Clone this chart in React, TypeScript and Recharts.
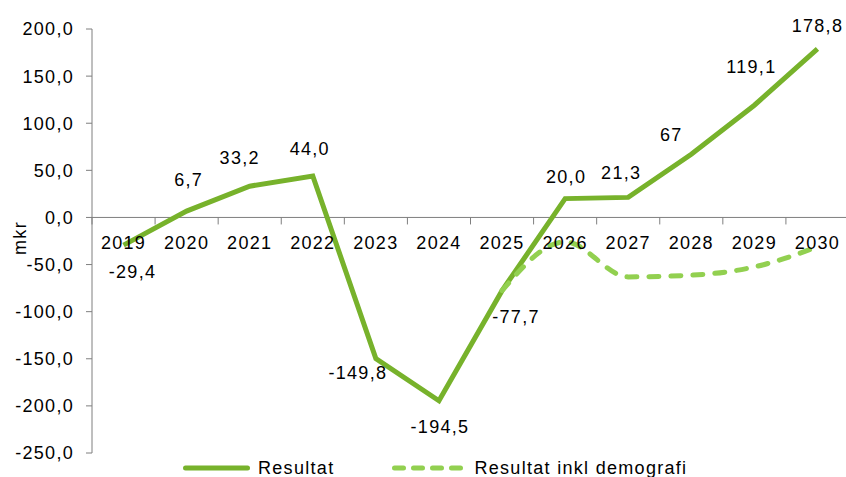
import React from 'react';
import { LineChart, Line, XAxis, YAxis, ReferenceLine, LabelList, Legend, Label } from 'recharts';

const years = ['2019', '2020', '2021', '2022', '2023', '2024', '2025', '2026', '2027', '2028', '2029', '2030'];
const resultat = [-29.4, 6.7, 33.2, 44.0, -149.8, -194.5, -77.7, 20.0, 21.3, 67, 119.1, 178.8];
const resultatDecimals = [1, 1, 1, 1, 1, 1, 1, 1, 1, 0, 1, 1];
const demografi: (number | null)[] = [null, null, null, null, null, null, -77.7, -25.9, -63.1, -61.3, -52.5, -31.2];
const yTicks = [-250, -200, -150, -100, -50, 0, 50, 100, 150, 200];
const labelOffsets: [number, number][] = [
  [9, 27], [2, -31], [-10, -28], [-3, -27], [-18, 14], [1, 26],
  [14, 26], [1, -22], [-7, -24], [-20, -19], [-3, -38], [0, -23],
];

const data = years.map((y, i) => ({ year: y, resultat: resultat[i], demografi: demografi[i] }));

const CHART_W = 850;
const CHART_H = 477;
const X_AXIS_H = 1;
const MARGIN = { top: 29, right: 1, bottom: 23, left: 0 };
const Y_AXIS_W = 92;
const Y_MIN = -250;
const Y_MAX = 200;
const PLOT_H = CHART_H - MARGIN.top - MARGIN.bottom - X_AXIS_H;
const PLOT_W = CHART_W - MARGIN.left - MARGIN.right - Y_AXIS_W;
const BAND = PLOT_W / years.length;
const ZERO_Y = MARGIN.top + (PLOT_H * Y_MAX) / (Y_MAX - Y_MIN);

const SOLID = '#77B22B';
const DASHED = '#92D050';
const AXIS = '#7F7F7F';
const FONT = "'Liberation Sans', Arial, sans-serif";
const FS = 18;
const LS = 1.3;

const fmt = (v: number, d = 1) => v.toFixed(d).replace('.', ',');

const XTick = (props: any) => {
  const { x, payload, index } = props;
  const half = BAND / 2;
  const last = index === years.length - 1;
  return (
    <g>
      <line x1={x - half} x2={x - half} y1={ZERO_Y} y2={ZERO_Y + 7} stroke={AXIS} strokeWidth={1} />
      {last && <line x1={x + half} x2={x + half} y1={ZERO_Y} y2={ZERO_Y + 7} stroke={AXIS} strokeWidth={1} />}
      <text x={x} y={ZERO_Y + 32} textAnchor="middle" fontSize={FS} letterSpacing={LS} fill="#000" fontFamily={FONT}>
        {payload.value}
      </text>
    </g>
  );
};

const DataLabel = (props: any) => {
  const { index, value } = props;
  const x = props.x ?? props.viewBox?.x;
  const y = props.y ?? props.viewBox?.y;
  if (x == null || y == null || value == null) return null;
  const [dx, dy] = labelOffsets[index] || [0, -20];
  return (
    <text x={x + dx} y={y + dy} textAnchor="middle" dominantBaseline="central" fontSize={FS} letterSpacing={LS} fill="#000" fontFamily={FONT}>
      {fmt(Number(value), resultatDecimals[index])}
    </text>
  );
};

const LegendContent = () => (
  <div style={{ display: 'flex', alignItems: 'center', fontFamily: FONT, fontSize: FS, letterSpacing: LS, color: '#000', height: 20, whiteSpace: 'nowrap' }}>
    <svg width={67} height={10} style={{ display: 'block' }}>
      <line x1={2.5} x2={64.5} y1={5} y2={5} stroke={SOLID} strokeWidth={5} strokeLinecap="round" />
    </svg>
    <span style={{ marginLeft: 8 }}>Resultat</span>
    <svg width={75} height={10} style={{ display: 'block', marginLeft: 58 }}>
      <line x1={2.5} x2={72.5} y1={5} y2={5} stroke={DASHED} strokeWidth={5} strokeLinecap="round" strokeDasharray="9 10" />
    </svg>
    <span style={{ marginLeft: 7 }}>Resultat inkl demografi</span>
  </div>
);

export default function App() {
  return (
    <div style={{ position: 'absolute', left: 0, top: 0, width: 846, height: 477, overflow: 'hidden', background: '#fff' }}>
      <LineChart width={CHART_W} height={CHART_H} data={data} margin={MARGIN} style={{ fontFamily: FONT }}>
        <XAxis
          dataKey="year"
          height={X_AXIS_H}
          axisLine={false}
          tickLine={false}
          tick={<XTick />}
          interval={0}
          padding={{ left: BAND / 2, right: BAND / 2 }}
        />
        <YAxis
          width={Y_AXIS_W}
          domain={[Y_MIN, Y_MAX]}
          ticks={yTicks}
          type="number"
          allowDataOverflow
          tickFormatter={(v: number) => fmt(v)}
          tick={{ fontSize: FS, fill: '#000', letterSpacing: LS, fontFamily: FONT } as any}
          tickSize={6}
          tickMargin={12}
          axisLine={{ stroke: AXIS }}
          tickLine={{ stroke: AXIS }}
        >
          <Label
            content={(p: any) => {
              const vb = p.viewBox || { x: 0, y: MARGIN.top, width: Y_AXIS_W, height: PLOT_H };
              const cx = vb.x + 20;
              const cy = vb.y + vb.height / 2 - 3;
              return (
                <text x={cx} y={cy} transform={`rotate(-90 ${cx} ${cy})`} textAnchor="middle" dominantBaseline="central" fontSize={FS} letterSpacing={LS} fill="#000" fontFamily={FONT}>
                  mkr
                </text>
              );
            }}
          />
        </YAxis>
        <ReferenceLine y={0} stroke={AXIS} strokeWidth={1} />
        <Legend
          layout="horizontal"
          verticalAlign="middle"
          content={<LegendContent />}
          wrapperStyle={{ position: 'absolute', left: 183, top: 458, width: 'auto', height: 20 }}
        />
        <Line
          dataKey="resultat"
          name="Resultat"
          type="linear"
          stroke={SOLID}
          strokeWidth={5}
          dot={false}
          activeDot={false}
          isAnimationActive={false}
        >
          <LabelList dataKey="resultat" content={<DataLabel />} />
        </Line>
        <Line
          dataKey="demografi"
          name="Resultat inkl demografi"
          type="monotone"
          stroke={DASHED}
          strokeWidth={5}
          strokeDasharray="10 12"
          strokeLinecap="round"
          dot={false}
          activeDot={false}
          connectNulls={false}
          isAnimationActive={false}
        />
      </LineChart>
    </div>
  );
}
